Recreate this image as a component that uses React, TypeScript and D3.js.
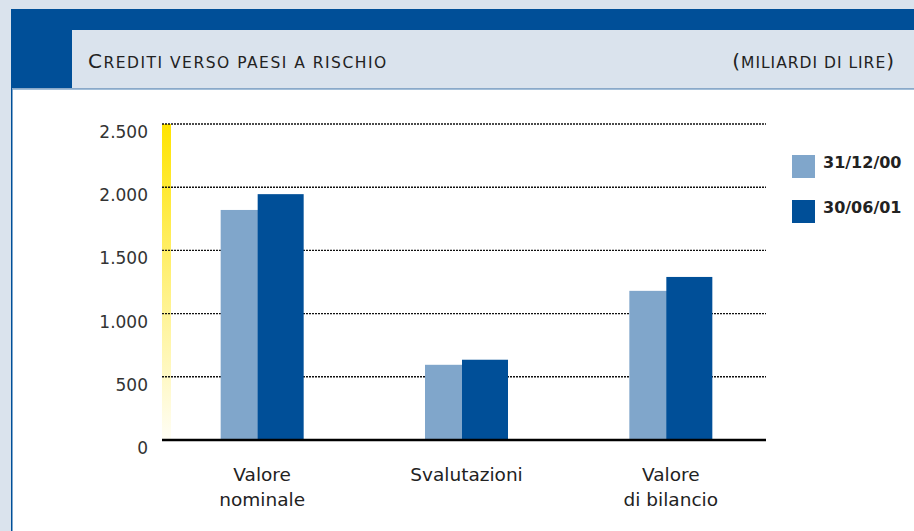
import React, { useEffect, useRef } from 'react';
import * as d3 from 'd3';

// data (miliardi di lire)
const categories = ['Valore\nnominale', 'Svalutazioni', 'Valore\ndi bilancio'];
const seriesNames = ['31/12/00', '30/06/01'];
const values2000 = [1820, 595, 1180];
const values2001 = [1945, 635, 1290];
const yTicks = [0, 500, 1000, 1500, 2000, 2500];

const BG = '#dae3ed';
const DARK = '#004f98';
const LIGHT = '#80a6cb';
const FONT = '"DejaVu Sans", sans-serif';

export default function App() {
  const ref = useRef<SVGSVGElement>(null);

  useEffect(() => {
    const svg = d3.select(ref.current);
    svg.selectAll('*').remove();

    const width = 914, height = 531;
    const colors = [LIGHT, DARK];
    const series = [values2000, values2001];

    // frame
    svg.append('rect').attr('width', width).attr('height', height).attr('fill', BG);
    svg.append('rect').attr('x', 11).attr('y', 9).attr('width', width - 11).attr('height', 80).attr('fill', DARK);
    svg.append('rect').attr('x', 72).attr('y', 30).attr('width', width - 72).attr('height', 58).attr('fill', BG);
    svg.append('rect').attr('x', 11).attr('y', 88).attr('width', width - 11).attr('height', height - 88).attr('fill', DARK);
    svg.append('rect').attr('x', 12).attr('y', 88).attr('width', width - 12).attr('height', 1.5).attr('fill', '#8aa9c9');
    svg.append('rect').attr('x', 12.5).attr('y', 89.5).attr('width', width - 12.5).attr('height', height - 89.5).attr('fill', '#fff');

    // title
    const title = svg.append('text').attr('x', 88).attr('y', 68)
      .attr('font-family', FONT).attr('fill', '#222').attr('letter-spacing', 1.5);
    title.append('tspan').attr('font-size', 20).text('C');
    title.append('tspan').attr('font-size', 15.5).text('REDITI  VERSO  PAESI  A  RISCHIO');

    const unit = svg.append('text').attr('x', 895).attr('y', 68).attr('text-anchor', 'end')
      .attr('font-family', FONT).attr('fill', '#222').attr('letter-spacing', 1);
    unit.append('tspan').attr('font-size', 20).text('(');
    unit.append('tspan').attr('font-size', 15.5).text('MILIARDI  DI  LIRE');
    unit.append('tspan').attr('font-size', 20).text(')');

    // scales
    const x0 = 162, x1 = 766;
    const y = d3.scaleLinear().domain([0, 2500]).range([440, 124]);
    const x = d3.scaleBand().domain(categories).range([160, 773]).padding(0);
    const barW = 46, barStep = 37;
    const fmt = d3.formatLocale({ decimal: ',', thousands: '.', grouping: [3], currency: ['', ''] }).format(',');

    // yellow gradient strip
    const defs = svg.append('defs');
    const grad = defs.append('linearGradient').attr('id', 'ygrad')
      .attr('x1', 0).attr('y1', 0).attr('x2', 0).attr('y2', 1);
    grad.append('stop').attr('offset', '0%').attr('stop-color', '#ffe400');
    grad.append('stop').attr('offset', '55%').attr('stop-color', '#fff28a');
    grad.append('stop').attr('offset', '100%').attr('stop-color', '#fffef6');
    svg.append('rect').attr('x', x0).attr('y', y(2500)).attr('width', 9)
      .attr('height', y(0) - y(2500)).attr('fill', 'url(#ygrad)');

    // gridlines
    svg.append('g').selectAll('line').data(yTicks.filter(d => d > 0)).enter().append('line')
      .attr('x1', x0).attr('x2', x1).attr('y1', d => y(d)).attr('y2', d => y(d))
      .attr('stroke', '#111').attr('stroke-width', 1.4).attr('stroke-dasharray', '2,1');

    // tick labels
    svg.append('g').selectAll('text').data(yTicks).enter().append('text')
      .attr('x', 148).attr('y', d => y(d) + 14).attr('text-anchor', 'end')
      .attr('font-family', FONT).attr('font-size', 17).attr('fill', '#333')
      .text(d => fmt(d));

    // bars
    series.forEach((vals, si) => {
      svg.append('g').selectAll('rect').data(vals).enter().append('rect')
        .attr('x', (d, i) => (x(categories[i]) as number) + x.bandwidth() / 2 - (barStep + barW) / 2 + si * barStep)
        .attr('y', d => y(d))
        .attr('width', barW)
        .attr('height', d => y(0) - y(d))
        .attr('fill', colors[si]);
    });

    // baseline
    svg.append('line').attr('x1', x0).attr('x2', x1).attr('y1', y(0)).attr('y2', y(0))
      .attr('stroke', '#000').attr('stroke-width', 2.5);

    // category labels
    categories.forEach(c => {
      const t = svg.append('text').attr('text-anchor', 'middle')
        .attr('font-family', FONT).attr('font-size', 18.5).attr('fill', '#222');
      c.split('\n').forEach((line, li) => {
        t.append('tspan').attr('x', (x(c) as number) + x.bandwidth() / 2).attr('y', 481 + li * 25).text(line);
      });
    });

    // legend
    seriesNames.forEach((name, i) => {
      const ly = 155 + i * 45;
      svg.append('rect').attr('x', 792).attr('y', ly).attr('width', 23).attr('height', 23).attr('fill', colors[i]);
      svg.append('text').attr('x', 823).attr('y', ly + 13).attr('font-family', FONT)
        .attr('font-size', 16).attr('font-weight', 'bold').attr('fill', '#222').text(name);
    });
  }, []);

  return (
    <svg ref={ref} width={914} height={531} style={{ position: 'absolute', left: 0, top: 0 }} />
  );
}
